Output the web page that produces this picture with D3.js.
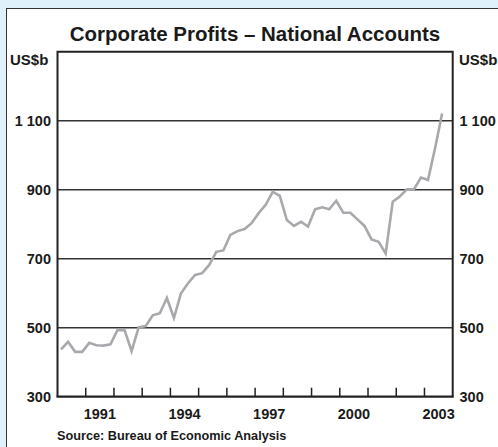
<!DOCTYPE html>
<html>
<head>
<meta charset="utf-8">
<script src="https://cdn.jsdelivr.net/npm/d3@7"></script>
<style>
  body { margin: 0; background: #dff1fa; }
  svg { display: block; }
  text { font-family: "Liberation Sans", Arial, sans-serif; font-weight: bold; fill: #1a1a1a; }
</style>
</head>
<body>
<script>
// Quarterly corporate profits, US$b, 1990 Q1 to 2003 Q3
var startYear = 1990;
var profits = [
    437, 459, 430, 430, 456, 449, 448, 452,
    493, 493, 432, 501, 505, 536, 542, 586,
    528, 600, 629, 653, 658, 682, 720, 724,
    769, 780, 786, 803, 832, 856, 894, 882,
    812, 795, 807, 793, 843, 849, 843, 868,
    833, 833, 814, 795, 756, 749, 715, 865,
    880, 901, 901, 935, 928, 1020, 1121
];
var yTicks = [300, 500, 700, 900, 1100];
var yTickLabels = ['300', '500', '700', '900', '1 100'];
var xLabelYears = [1991, 1994, 1997, 2000, 2003];

var width = 498, height = 447;
var plotLeft = 57.5, plotRight = 452.7, plotTop = 51.7, plotBottom = 396.7;

var svg = d3.select('body').append('svg').attr('width', width).attr('height', height);

// white panel (runs off the right and bottom edges)
svg.append('rect')
    .attr('x', 6.5).attr('y', 8.5)
    .attr('width', 500).attr('height', 450)
    .attr('fill', '#fff').attr('stroke', '#333').attr('stroke-width', 1);

var x = d3.scaleLinear().domain([1990, 2004]).range([plotLeft, plotRight]);
var y = d3.scaleLinear().domain([300, 1300]).range([plotBottom, plotTop]);

svg.append('text')
    .attr('x', 255).attr('y', 40.5)
    .attr('text-anchor', 'middle')
    .attr('font-size', 20.5)
    .text('Corporate Profits \u2013 National Accounts');

svg.append('text').attr('x', 10).attr('y', 64.5).attr('font-size', 15).text('US$b');
svg.append('text').attr('x', 459).attr('y', 64.5).attr('font-size', 15).text('US$b');

// horizontal gridlines
svg.selectAll('line.grid')
    .data(yTicks.slice(1))
    .enter()
    .append('line')
    .attr('class', 'grid')
    .attr('x1', plotLeft).attr('x2', plotRight)
    .attr('y1', function (d) { return y(d); })
    .attr('y2', function (d) { return y(d); })
    .attr('stroke', '#333').attr('stroke-width', 1.5);

// y labels both sides
svg.selectAll('text.yl')
    .data(yTicks)
    .enter()
    .append('text')
    .attr('class', 'yl')
    .attr('x', 51).attr('y', function (d) { return y(d) + 5.5; })
    .attr('text-anchor', 'end')
    .attr('font-size', 14.5)
    .text(function (d, i) { return yTickLabels[i]; });

svg.selectAll('text.yr')
    .data(yTicks)
    .enter()
    .append('text')
    .attr('class', 'yr')
    .attr('x', 459.5).attr('y', function (d) { return y(d) + 5.5; })
    .attr('font-size', 14.5)
    .text(function (d, i) { return yTickLabels[i]; });

// x ticks at year boundaries
var years = d3.range(1991, 2004);
svg.selectAll('line.xt')
    .data(years)
    .enter()
    .append('line')
    .attr('class', 'xt')
    .attr('x1', function (d) { return x(d); })
    .attr('x2', function (d) { return x(d); })
    .attr('y1', plotBottom).attr('y2', plotBottom - 9)
    .attr('stroke', '#222').attr('stroke-width', 1.5);

svg.selectAll('text.xl')
    .data(xLabelYears)
    .enter()
    .append('text')
    .attr('class', 'xl')
    .attr('x', function (d) { return x(d + 0.5); })
    .attr('y', 419)
    .attr('text-anchor', 'middle')
    .attr('font-size', 14.5)
    .text(function (d) { return d; });

// data line
var line = d3.line()
    .x(function (d, i) { return x(startYear + (i + 0.5) / 4); })
    .y(function (d) { return y(d); });

svg.append('path')
    .datum(profits)
    .attr('d', line)
    .attr('fill', 'none')
    .attr('stroke', '#a7a9ac')
    .attr('stroke-width', 2.6)
    .attr('stroke-linejoin', 'miter');

// plot frame
svg.append('path')
    .attr('d', 'M' + plotLeft + ',' + plotBottom + 'V' + plotTop + 'H' + plotRight + 'V' + plotBottom)
    .attr('fill', 'none').attr('stroke', '#222').attr('stroke-width', 2);
svg.append('line')
    .attr('x1', plotLeft - 1).attr('x2', plotRight + 1)
    .attr('y1', plotBottom).attr('y2', plotBottom)
    .attr('stroke', '#222').attr('stroke-width', 2.2);

svg.append('text')
    .attr('x', 57).attr('y', 440)
    .attr('font-size', 12.7)
    .text('Source: Bureau of Economic Analysis');
</script>
</body>
</html>
